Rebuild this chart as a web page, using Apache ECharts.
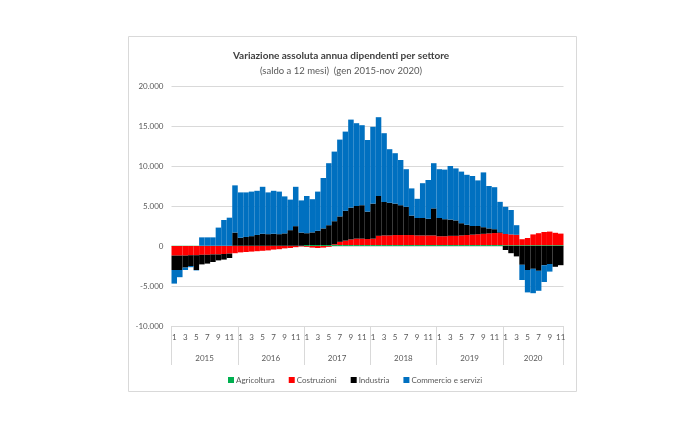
<!DOCTYPE html>
<html><head><meta charset="utf-8">
<script src="https://cdn.jsdelivr.net/npm/echarts@6/dist/echarts.min.js"></script>
<style>html,body{margin:0;padding:0;background:#fff}#c{width:689px;height:421px}</style>
</head><body><div id="c"></div>
<script>
// ---- data ----
const years = ['2015', '2016', '2017', '2018', '2019', '2020'];
const monthsPerYear = [12, 12, 12, 12, 12, 11];
const yTickValues = [-10000, -5000, 0, 5000, 10000, 15000, 20000];
const seriesNames = ['Agricoltura', 'Costruzioni', 'Industria', 'Commercio e servizi'];

const agricoltura = [
  30, 30, 30, 30, 30, 30, 30, 30, 30, 30, 30, 30,
  30, 30, 30, 30, 30, 30, 30, 30, 30, 30, 30, 30,
  120, 120, 120, 120, 120, 120, 120, 120, 120, 120, 120, 120,
  120, 120, 120, 120, 120, 120, 120, 120, 120, 120, 120, 120,
  120, 120, 120, 120, 120, 120, 120, 120, 120, 120, 120, 120,
  100, 100, 100, 100, 100, 100, 100, 100, 100, 100, 100
];
const costruzioni = [
  -1200, -1200, -1200, -1150, -1150, -1100, -1100, -1050, -1050, -1000, -950, -900,
  -800, -750, -700, -650, -600, -550, -450, -400, -300, -250, -150, -50,
  -100, -200, -250, -200, -100, 100, 400, 550, 700, 800, 800, 750,
  800, 1150, 1200, 1200, 1250, 1250, 1250, 1250, 1200, 1200, 1200, 1200,
  1100, 1100, 1150, 1150, 1200, 1250, 1300, 1350, 1400, 1450, 1500, 1500,
  1400, 1350, 1300, 750, 900, 1350, 1500, 1650, 1700, 1550, 1450
];
const industria = [
  -1800, -1800, -1500, -1350, -1850, -1200, -1100, -950, -750, -700, -550, 1650,
  1000, 1100, 1200, 1350, 1500, 1450, 1500, 1450, 1550, 1950, 2450, 1650,
  1480, 1580, 1780, 2080, 2480, 2880, 3180, 3730, 3980, 4080, 4180, 3430,
  4380, 4980, 4180, 4080, 3930, 3730, 3530, 2430, 2180, 2180, 2080, 3380,
  2280, 2130, 2030, 1930, 1530, 1280, 1080, 1030, 830, 630, 480, 100,
  -500, -900, -1300, -2350, -3000, -2850, -3100, -2400, -2250, -2600, -2400
];
const commercio = [
  -1700, -900, -300, -150, -50, 1050, 1050, 1050, 2270, 3220, 3510, 5900,
  5670, 5570, 5570, 5520, 5870, 5220, 5370, 5320, 4620, 3820, 4920, 4020,
  4650, 4150, 4900, 6300, 7750, 8700, 9600, 9900, 11000, 10350, 10000, 8950,
  9600, 9850, 8600, 6700, 6300, 5650, 4700, 3400, 2400, 4350, 4850, 5650,
  6100, 6200, 6700, 6500, 6450, 6250, 6250, 5700, 6850, 5300, 5250, 3800,
  3400, 3050, 1200, -1900, -2800, -3050, -2500, -2100, -950, 0, 0
];

// ---- build categories ----
const monthCats = [];
const yearOfCat = [];
years.forEach((y, yi) => {
  for (let m = 1; m <= monthsPerYear[yi]; m++) { monthCats.push(String(m)); yearOfCat.push(y); }
});
const yearStart = {};
yearOfCat.forEach((y, i) => { if (!(y in yearStart)) yearStart[y] = i; });
const yearStartIdx = Object.values(yearStart);
const yearLabelIdx = {};
years.forEach((y, yi) => { yearLabelIdx[yearStart[y] + Math.floor((monthsPerYear[yi] - 1) / 2)] = y; });

const colors = ['#00B050', '#FF0000', '#000000', '#0070C0'];
const dataArr = [agricoltura, costruzioni, industria, commercio];
const labelColor = '#595959';
const fontFam = 'Lato, "Open Sans", sans-serif';

const chart = echarts.init(document.getElementById('c'), null, { renderer: 'canvas' });
chart.setOption({
  animation: false,
  backgroundColor: '#fff',
  textStyle: { fontFamily: fontFam },
  title: {
    text: 'Variazione assoluta annua dipendenti per settore',
    subtext: '(saldo a 12 mesi)  (gen 2015-nov 2020)',
    left: 336, top: 46, textAlign: 'center', itemGap: 5,
    textStyle: { fontSize: 10, fontWeight: 'bold', color: '#404040', fontFamily: fontFam },
    subtextStyle: { fontSize: 9.5, color: '#595959', fontFamily: fontFam }
  },
  graphic: [{
    type: 'rect', silent: true, z: -10,
    shape: { x: 128.5, y: 36.5, width: 448, height: 355 },
    style: { fill: 'none', stroke: '#d9d9d9', lineWidth: 1 }
  }],
  legend: {
    data: seriesNames, top: 371, left: 223,
    icon: 'rect', itemWidth: 6, itemHeight: 6, itemGap: 14,
    textStyle: { fontSize: 8, color: labelColor, fontFamily: fontFam, padding: [0, 0, 0, -3] }
  },
  grid: { left: 171.5, right: 125.5, top: 86, bottom: 95, containLabel: false },
  xAxis: [{
    type: 'category', data: monthCats, position: 'bottom',
    axisLine: { show: false }, axisTick: { show: false },
    axisLabel: { interval: 1, fontSize: 8, color: labelColor, margin: 7, fontFamily: fontFam }
  }, {
    type: 'category', data: monthCats, position: 'bottom',
    axisLine: { show: false },
    axisTick: { show: true, length: 39, interval: (i) => yearStartIdx.indexOf(i) >= 0, lineStyle: { color: '#d9d9d9' } },
    axisLabel: {
      interval: (i) => i in yearLabelIdx, margin: 28, fontSize: 8, color: labelColor, fontFamily: fontFam,
      formatter: (v, i) => yearLabelIdx[i] === '2020' ? '{b|2020}' : '{a|' + (yearLabelIdx[i] || '') + '}',
      rich: { a: { padding: [0, 0, 0, 5.5], fontSize: 8, color: labelColor }, b: { padding: [0, 0, 0, 0], fontSize: 8, color: labelColor } }
    }
  }],
  yAxis: {
    type: 'value', min: yTickValues[0], max: yTickValues[yTickValues.length - 1], interval: 5000,
    axisLine: { show: false }, axisTick: { show: false },
    splitLine: { lineStyle: { color: '#d9d9d9', width: 1 } },
    axisLabel: {
      fontSize: 8, color: labelColor, margin: 8, fontFamily: fontFam,
      formatter: (v) => { const s = Math.abs(v).toString().replace(/\B(?=(\d{3})+(?!\d))/g, '.'); return (v < 0 ? '-' : '') + s; }
    }
  },
  series: seriesNames.map((n, k) => ({
    name: n, type: 'bar', stack: 'tot', xAxisIndex: 0,
    data: dataArr[k], barCategoryGap: '0%', barGap: '0%',
    itemStyle: { color: colors[k] }
  }))
});
</script></body></html>
